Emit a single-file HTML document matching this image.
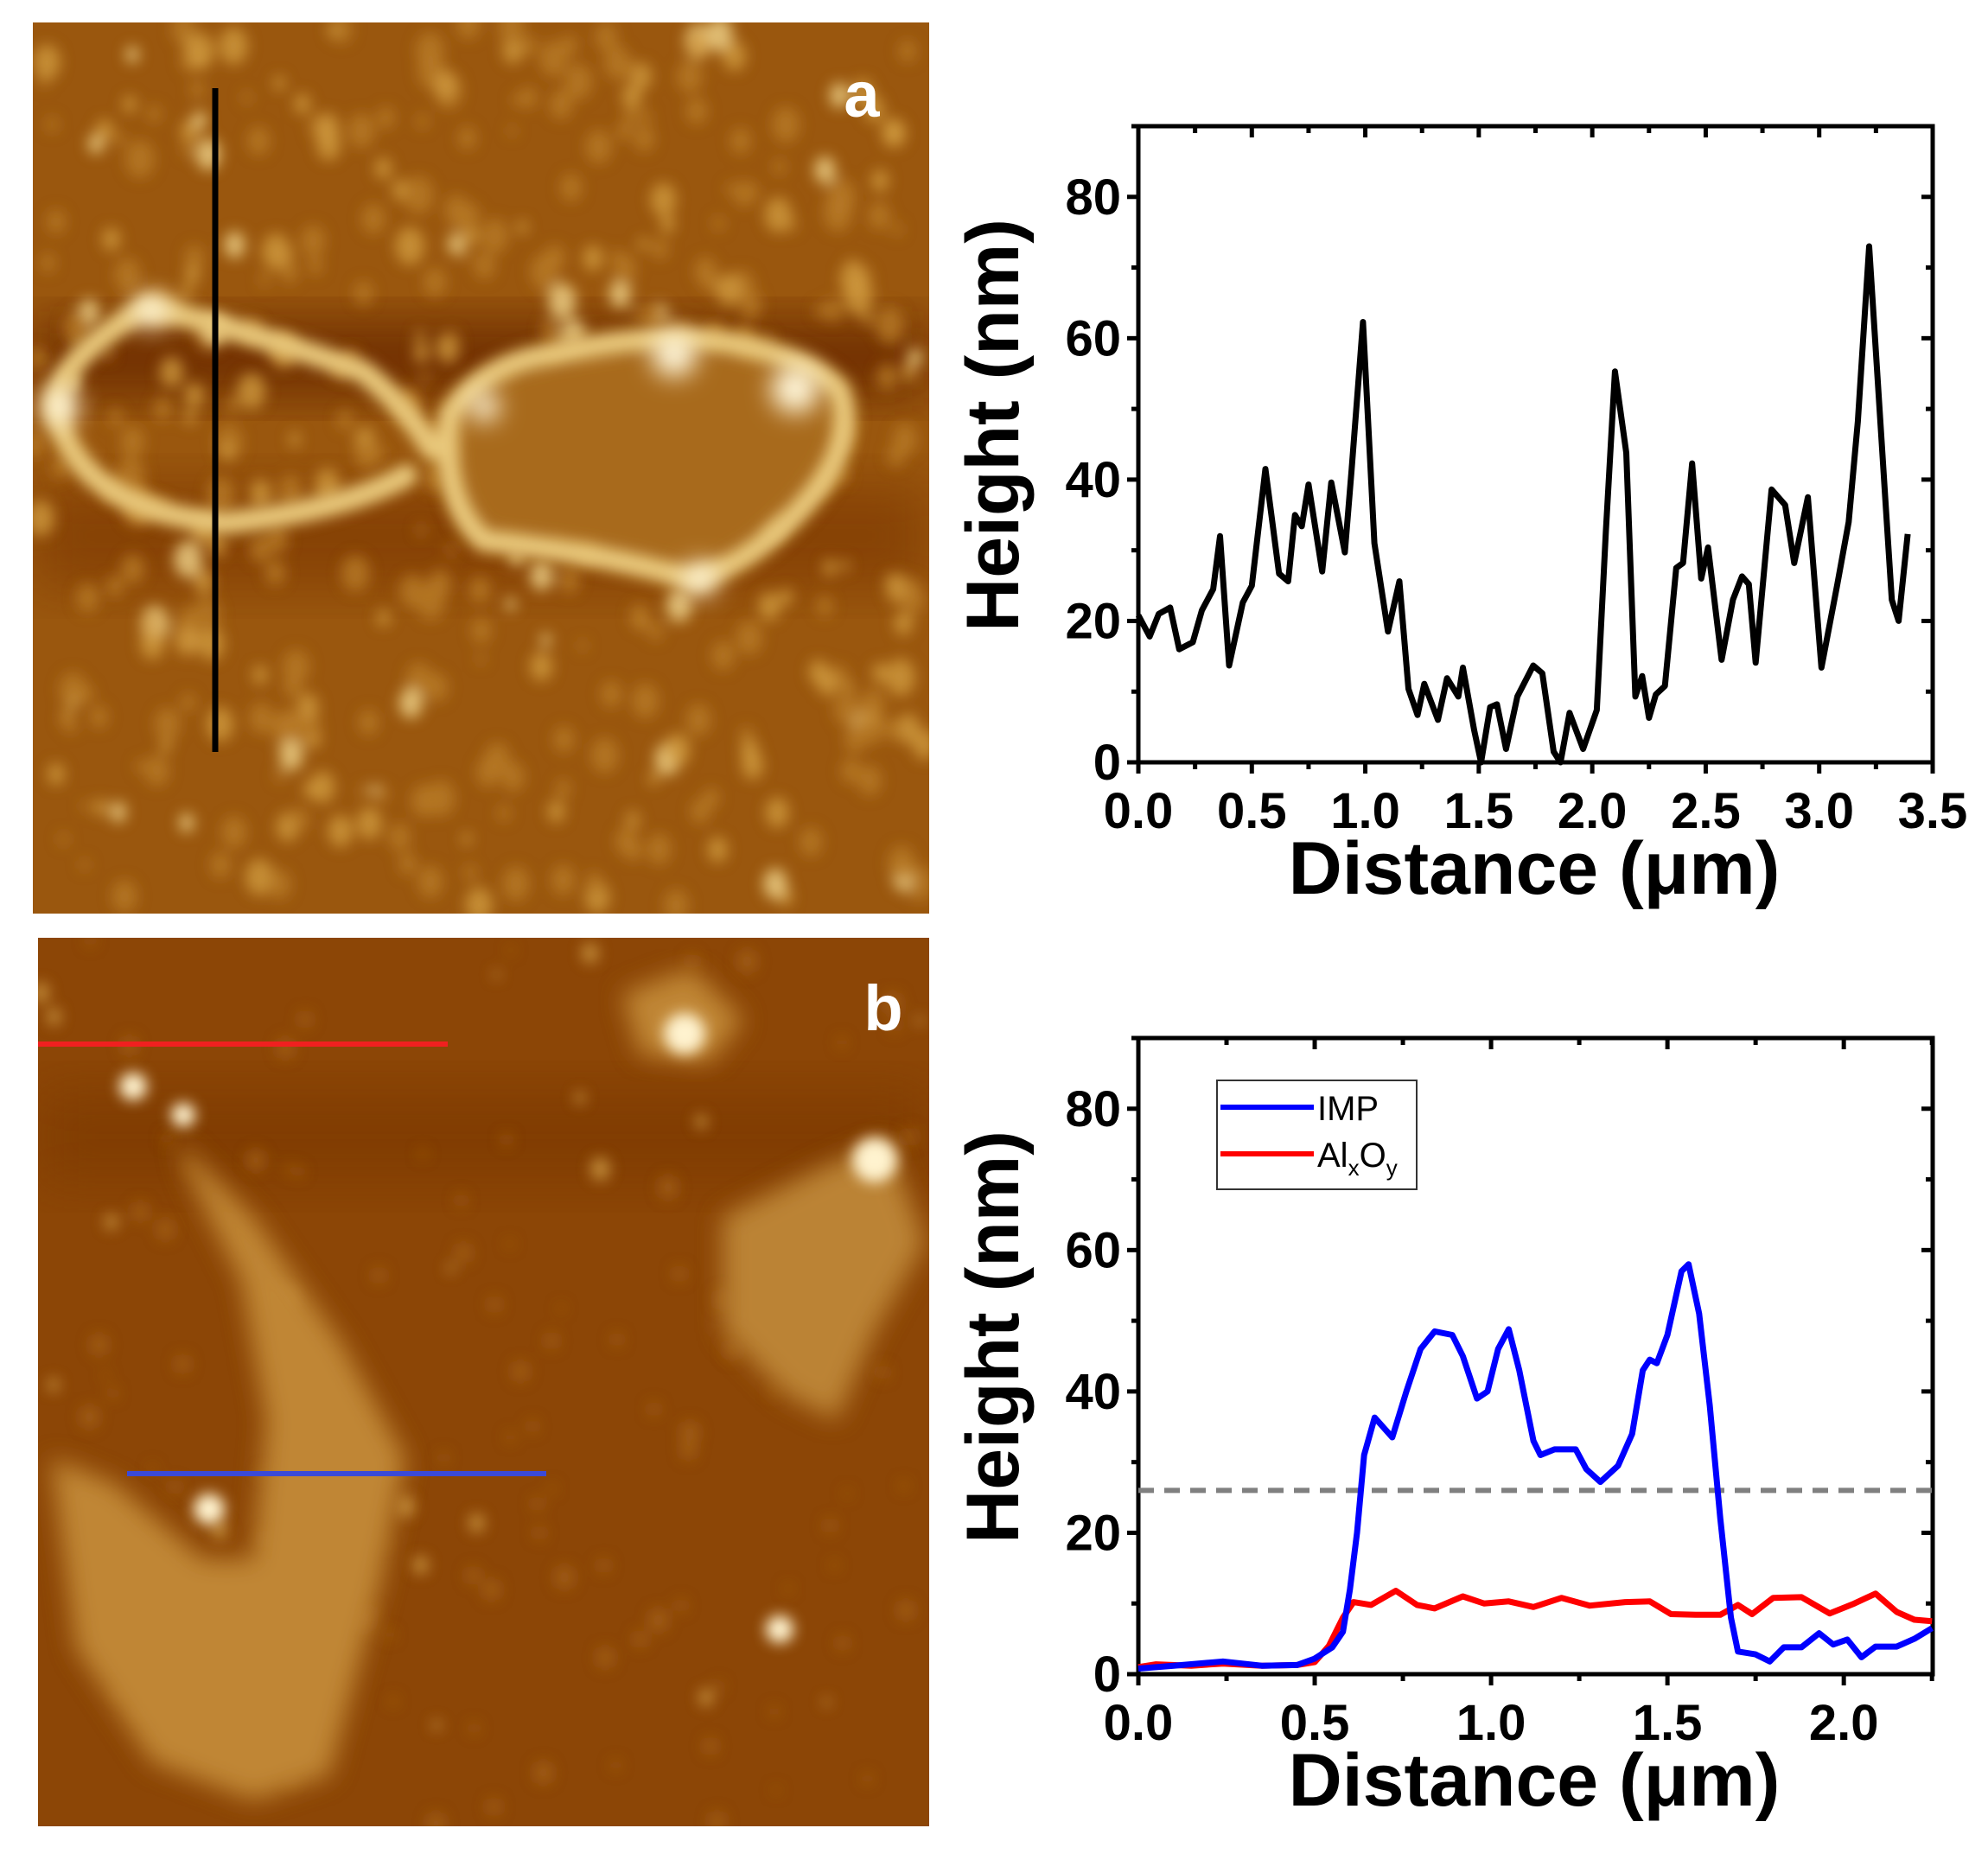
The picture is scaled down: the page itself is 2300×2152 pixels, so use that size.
<!DOCTYPE html>
<html><head><meta charset="utf-8">
<style>
html,body{margin:0;padding:0;background:#fff;}
body{width:2300px;height:2152px;position:relative;overflow:hidden;font-family:"Liberation Sans",Arial,sans-serif;}
svg{position:absolute;left:0;top:0;}
</style></head>
<body>
<svg id="fig" width="2300" height="2152" viewBox="0 0 2300 2152" xmlns="http://www.w3.org/2000/svg">
<defs>
<filter id="blur8" x="-20%" y="-20%" width="140%" height="140%"><feGaussianBlur stdDeviation="8"/></filter>
<filter id="blur14" x="-20%" y="-20%" width="140%" height="140%"><feGaussianBlur stdDeviation="14"/></filter>
<filter id="blur30" x="-30%" y="-30%" width="160%" height="160%"><feGaussianBlur stdDeviation="30"/></filter>
<clipPath id="clipA"><rect x="38" y="26" width="1037" height="1031"/></clipPath>
<clipPath id="clipB"><rect x="44" y="1085" width="1031" height="1028"/></clipPath>
</defs>

<!-- AFM image a -->
<g clip-path="url(#clipA)">
<rect x="38" y="26" width="1037" height="1031" fill="#9a570e"/>
<rect x="38" y="370" width="1037" height="90" fill="#6a2a02" filter="url(#blur30)" opacity="0.85"/>
<rect x="38" y="560" width="1037" height="120" fill="#7a3604" filter="url(#blur30)" opacity="0.6"/>
<g id="dotsA" filter="url(#blur8)"></g>
<path d="M520,480 Q560,420 640,410 Q750,385 830,395 Q930,410 970,450 Q990,500 950,560 Q880,650 800,670 Q700,640 560,625 Q510,580 520,480Z" fill="#a86a1c" filter="url(#blur14)"/>
<g fill="none" stroke="#e8c77a" stroke-width="26" filter="url(#blur8)" stroke-linecap="round">
<path d="M170,355 Q60,420 65,475 Q90,590 260,605 Q400,590 470,550"/>
<path d="M170,355 Q280,380 420,430 Q470,470 500,520"/>
<path d="M520,480 Q560,420 640,410 Q750,385 830,395 Q930,410 970,450 Q990,500 950,560 Q880,650 800,670 Q700,640 560,625 Q510,580 520,480"/>
</g>
<g fill="#fff6d8" filter="url(#blur14)">
<circle cx="70" cy="470" r="22"/><circle cx="175" cy="360" r="20"/><circle cx="780" cy="410" r="26"/><circle cx="920" cy="450" r="28"/><circle cx="810" cy="670" r="20"/><circle cx="560" cy="470" r="18"/>
</g>
<line x1="249" y1="102" x2="249" y2="870" stroke="#000" stroke-width="7"/>
<text x="997" y="135" font-size="74" font-weight="bold" fill="#fff" text-anchor="middle">a</text>
</g>

<!-- AFM image b -->
<g clip-path="url(#clipB)">
<rect x="44" y="1085" width="1031" height="1028" fill="#8c4606"/>
<rect x="44" y="1260" width="1031" height="110" fill="#7a3904" filter="url(#blur30)" opacity="0.6"/>
<g id="dotsB" filter="url(#blur8)"></g>
<polygon points="205,1320 293,1408 396,1555 469,1687 440,1834 381,2054 293,2083 176,2039 88,1907 59,1687 132,1716 235,1804 293,1804 308,1643 279,1482 220,1364" fill="#c08636" filter="url(#blur14)"/>
<polygon points="836,1408 953,1350 1027,1320 1070,1438 1012,1540 968,1643 909,1614 836,1540" fill="#bb8334" filter="url(#blur14)"/>
<polygon points="720,1150 800,1120 860,1180 820,1230 740,1220" fill="#c08636" filter="url(#blur14)"/>
<g fill="#fff3cf" filter="url(#blur8)">
<circle cx="792" cy="1196" r="24"/><circle cx="1012" cy="1342" r="26"/><circle cx="242" cy="1746" r="18"/><circle cx="154" cy="1257" r="16"/><circle cx="902" cy="1885" r="16"/><circle cx="212" cy="1290" r="14"/>
</g>
<line x1="40" y1="1208" x2="518" y2="1208" stroke="#f02020" stroke-width="6"/>
<line x1="147" y1="1705" x2="632" y2="1705" stroke="#3a4ad8" stroke-width="6"/>
<text x="1022" y="1192" font-size="74" font-weight="bold" fill="#fff" text-anchor="middle">b</text>
</g>

<g id="chartA"></g>
<g id="chartB"></g>
</svg>
<script>
// Chart a data
const distA = [0,0.05,0.09,0.14,0.18,0.24,0.28,0.33,0.36,0.40,0.46,0.50,0.56,0.62,0.66,0.69,0.72,0.75,0.81,0.85,0.91,0.94,0.99,1.04,1.10,1.15,1.19,1.23,1.26,1.32,1.36,1.41,1.43,1.48,1.51,1.55,1.58,1.62,1.67,1.74,1.78,1.83,1.86,1.90,1.96,2.02,2.06,2.10,2.15,2.19,2.22,2.25,2.28,2.32,2.37,2.40,2.44,2.48,2.51,2.57,2.62,2.66,2.69,2.72,2.79,2.85,2.89,2.95,3.01,3.08,3.13,3.17,3.22,3.29,3.32,3.35,3.39];
const heightA = [20.8,17.8,21,21.9,16,17,21.5,24.5,32,13.7,22.6,25,41.5,26.7,25.6,35,33.4,39.3,27,39.6,29.7,41.5,62.3,31,18.5,25.6,10.4,6.7,11.1,6,11.9,9.3,13.4,4.5,0,7.8,8.2,1.9,9.3,13.7,12.6,1.5,0,7,1.9,7.4,32.7,55.3,43.8,9.3,12.2,6.3,9.6,10.8,27.5,28.2,42.3,26,30.4,14.5,23,26.3,25.2,14.1,38.6,36.4,28.2,37.5,13.4,25.2,34,48.2,73,37.8,23,20,32.3];
const xTicksA = ["0.0","0.5","1.0","1.5","2.0","2.5","3.0","3.5"];
const yTicks = ["0","20","40","60","80"];
// Chart b data
const distB_imp = [0,0.1,0.24,0.35,0.45,0.5,0.55,0.58,0.6,0.62,0.64,0.67,0.72,0.76,0.80,0.84,0.89,0.92,0.96,0.99,1.02,1.05,1.08,1.12,1.14,1.18,1.24,1.27,1.31,1.36,1.40,1.43,1.45,1.47,1.50,1.54,1.56,1.59,1.62,1.65,1.68,1.70,1.75,1.79,1.83,1.88,1.93,1.97,2.01,2.05,2.09,2.15,2.20,2.25];
const heightB_imp = [0.8,1.2,1.8,1.2,1.3,2.2,3.8,6,12,20,31,36.3,33.5,40,46,48.5,48,45,39,40,46,48.8,43,33,31,31.8,31.8,29,27.2,29.5,34,43,44.5,44,48,57,58,51,38,22,8,3.2,2.8,1.8,3.8,3.8,5.8,4.2,4.9,2.4,3.9,3.9,5,6.5];
const distB_al = [0,0.05,0.15,0.24,0.35,0.45,0.5,0.54,0.58,0.61,0.66,0.73,0.79,0.84,0.92,0.98,1.05,1.12,1.2,1.28,1.38,1.45,1.51,1.58,1.65,1.70,1.74,1.80,1.88,1.96,2.03,2.09,2.15,2.2,2.25];
const heightB_al = [1,1.4,1.2,1.5,1.2,1.3,1.7,4,8,10.2,9.8,11.8,9.8,9.3,11,10,10.3,9.5,10.8,9.7,10.2,10.3,8.5,8.4,8.4,9.8,8.5,10.8,10.9,8.6,10,11.4,8.8,7.7,7.5];
const xTicksB = ["0.0","0.5","1.0","1.5","2.0"];
const thresholdB = [26];

const NS = "http://www.w3.org/2000/svg";
function mk(parent, tag, attrs){ const e=document.createElementNS(NS,tag); for(const k in attrs) e.setAttribute(k,attrs[k]); parent.appendChild(e); return e; }

function drawAxes(g, L, R, T, B, xMax, yMax, xTicks, xMinorStep){
  const sx = v => L + (R-L)*v/xMax;
  const sy = v => B - (B-T)*v/yMax;
  const frame = mk(g,'rect',{x:L,y:T,width:R-L,height:B-T,fill:'none',stroke:'#000','stroke-width':5});
  
  
  for(let v=0; v<=yMax; v+=10){
    const major = v%20===0;
    const len = major?13:8;
    mk(g,'line',{x1:L-len,y1:sy(v),x2:L,y2:sy(v),stroke:'#000','stroke-width':5});
    mk(g,'line',{x1:R,y1:sy(v),x2:R-len,y2:sy(v),stroke:'#000','stroke-width':5});
  }
  yTicks.forEach(t=>{
    const tx = mk(g,'text',{x:L-20,y:sy(+t)+20,'font-size':58,'font-weight':'bold','text-anchor':'end',fill:'#000'});
    tx.textContent=t;
    
    
  });
  for(let v=0; v<=xMax+1e-9; v+=xMinorStep){
    const major = Math.abs(v/0.5-Math.round(v/0.5))<1e-6;
    const len = major?13:8;
    mk(g,'line',{x1:sx(v),y1:B,x2:sx(v),y2:B+len,stroke:'#000','stroke-width':5});
    mk(g,'line',{x1:sx(v),y1:T,x2:sx(v),y2:T+len,stroke:'#000','stroke-width':5});
  }
  xTicks.forEach(t=>{
    const tx = mk(g,'text',{x:sx(+t),y:B+76,'font-size':58,'font-weight':'bold','text-anchor':'middle',fill:'#000'});
    tx.textContent=t;
    
    
  });
  const xt = mk(g,'text',{x:1775,y:B+152,'font-size':86,'font-weight':'bold','text-anchor':'middle',fill:'#000'});
  xt.textContent='Distance (\u03bcm)';
  
  
  const cy=(T+B)/2-22;
  const yt = mk(g,'text',{x:L-168,y:cy,'font-size':86,'font-weight':'bold','text-anchor':'middle',fill:'#000',transform:`rotate(-90 ${L-168} ${cy})`,'dominant-baseline':'central'});
  yt.textContent='Height (nm)';
  
  
  return {sx,sy};
}
function line(g, xs, ys, sx, sy, color, name){
  const d = xs.map((x,i)=>(i?'L':'M')+sx(x).toFixed(1)+','+sy(ys[i]).toFixed(1)).join(' ');
  const p = mk(g,'path',{d:d,fill:'none',stroke:color,'stroke-width':7,'stroke-linejoin':'round'});
  
  
}

// Chart a
(function(){
  const g=document.getElementById('chartA');
  const a=drawAxes(g,1317,2236,146,882,3.5,90,xTicksA,0.25);
  line(g,distA,heightA,a.sx,a.sy,'#000','series-height-a');
})();
// Chart b
(function(){
  const g=document.getElementById('chartB');
  const L=1317,R=2236,T=1201,B=1937;
  const xMax=2.252;
  const a=drawAxes(g,L,R,T,B,xMax,90,xTicksB,0.25);
  const dl = mk(g,'line',{x1:L,y1:a.sy(thresholdB[0]),x2:R,y2:a.sy(thresholdB[0]),stroke:'#808080','stroke-width':6,'stroke-dasharray':'18,12'});
  
  
  line(g,distB_al,heightB_al,a.sx,a.sy,'#ff0000','series-alxoy');
  line(g,distB_imp,heightB_imp,a.sx,a.sy,'#0000ff','series-imp');
  const lg = mk(g,'g',{});
  
  
  mk(lg,'rect',{x:1408,y:1250,width:231,height:126,fill:'#fff',stroke:'#333','stroke-width':2});
  const e1=mk(lg,'g',{});
  
  
  mk(e1,'line',{x1:1412,y1:1281,x2:1520,y2:1281,stroke:'#0000ff','stroke-width':6});
  const t1=mk(e1,'text',{x:1524,y:1296,'font-size':40,fill:'#000'}); t1.textContent='IMP';
  const e2=mk(lg,'g',{});
  
  
  mk(e2,'line',{x1:1412,y1:1335,x2:1520,y2:1335,stroke:'#ff0000','stroke-width':6});
  const t2=mk(e2,'text',{x:1524,y:1350,'font-size':40,fill:'#000'});
  t2.innerHTML='Al<tspan font-size="26" dy="10">x</tspan><tspan dy="-10">O</tspan><tspan font-size="26" dy="10">y</tspan>';
})();

// decorative AFM grain texture (not chart data)
(function(){
  let s=12345; const rnd=()=>{s=(s*1103515245+12345)%2147483648; return s/2147483648;};
  const ga=document.getElementById('dotsA');
  for(let i=0;i<420;i++){
    const x=38+rnd()*1037, y=26+rnd()*1031, r=5+rnd()*12, b=rnd();
    const c = b>0.9?'#f0d48c':(b>0.6?'#d09a40':'#b87a26');
    mk(ga,'ellipse',{cx:x,cy:y,rx:r,ry:r*1.3,fill:c,opacity:0.8});
  }
  const gb=document.getElementById('dotsB');
  for(let i=0;i<120;i++){
    const x=44+rnd()*1031, y=1085+rnd()*1028, r=4+rnd()*8, b=rnd();
    const c = b>0.85?'#d8a850':'#a66418';
    mk(gb,'ellipse',{cx:x,cy:y,rx:r,ry:r*1.2,fill:c,opacity:0.7});
  }
})();
</script>
</body></html>
